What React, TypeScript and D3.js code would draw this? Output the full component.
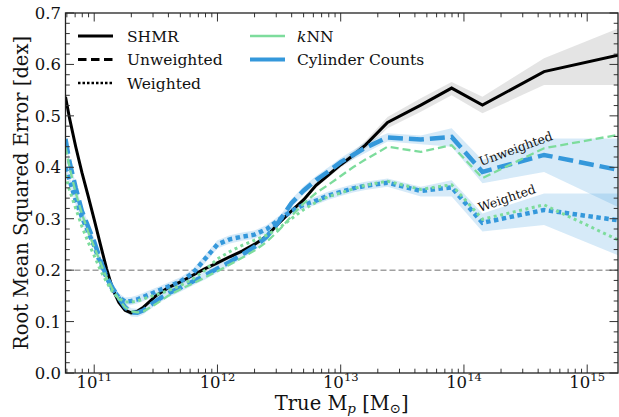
import React from "react";
import * as d3 from "d3";

// log10 of true halo mass at which each curve is sampled
const logMass = [
  10.767, 10.8, 10.85, 10.9, 10.95, 11.0, 11.05, 11.1, 11.15, 11.2, 11.25, 11.3, 11.35, 11.4,
  11.5, 11.6, 11.7, 11.8, 11.9, 12.0, 12.1, 12.2, 12.3, 12.4, 12.5, 12.6, 12.7, 12.8, 12.9,
  13.0, 13.1, 13.2, 13.38, 13.65, 13.9, 14.15, 14.65, 15.25,
];

// RMSE [dex] per model
const shmr = [
  0.537, 0.495, 0.44, 0.39, 0.345, 0.298, 0.25, 0.203, 0.163, 0.137, 0.122, 0.117, 0.12, 0.128,
  0.15, 0.166, 0.177, 0.19, 0.203, 0.214, 0.226, 0.237, 0.25, 0.266, 0.292, 0.315, 0.337, 0.365,
  0.385, 0.405, 0.423, 0.443, 0.487, 0.521, 0.554, 0.521, 0.586, 0.618,
];
const shmrLow = [
  0.533, 0.491, 0.436, 0.386, 0.341, 0.294, 0.246, 0.199, 0.159, 0.133, 0.118, 0.113, 0.116, 0.124,
  0.146, 0.162, 0.173, 0.186, 0.199, 0.21, 0.222, 0.233, 0.246, 0.262, 0.288, 0.311, 0.333, 0.36,
  0.38, 0.399, 0.416, 0.435, 0.476, 0.508, 0.54, 0.505, 0.56, 0.56,
];
const shmrHigh = [
  0.541, 0.499, 0.444, 0.394, 0.349, 0.302, 0.254, 0.207, 0.167, 0.141, 0.126, 0.121, 0.124, 0.132,
  0.154, 0.17, 0.181, 0.194, 0.207, 0.218, 0.23, 0.241, 0.254, 0.27, 0.296, 0.319, 0.341, 0.37,
  0.39, 0.411, 0.43, 0.451, 0.498, 0.534, 0.566, 0.537, 0.612, 0.67,
];

const knnUnweighted = [
  0.44, 0.4, 0.35, 0.31, 0.275, 0.245, 0.215, 0.185, 0.162, 0.143, 0.128, 0.12, 0.118, 0.12,
  0.134, 0.15, 0.163, 0.174, 0.186, 0.198, 0.211, 0.224, 0.238, 0.255, 0.278, 0.305, 0.33, 0.35,
  0.366, 0.383, 0.4, 0.415, 0.44, 0.43, 0.443, 0.379, 0.437, 0.463,
];
const knnWeighted = [
  0.385, 0.355, 0.32, 0.285, 0.255, 0.228, 0.2, 0.177, 0.157, 0.145, 0.138, 0.138, 0.14, 0.144,
  0.152, 0.16, 0.17, 0.183, 0.2, 0.222, 0.236, 0.248, 0.258, 0.268, 0.282, 0.3, 0.318, 0.332,
  0.343, 0.35, 0.358, 0.365, 0.373, 0.357, 0.366, 0.299, 0.327, 0.259,
];

const cylUnweighted = [
  0.455, 0.41, 0.36, 0.315, 0.285, 0.255, 0.22, 0.187, 0.165, 0.146, 0.128, 0.118, 0.117, 0.122,
  0.14, 0.155, 0.166, 0.178, 0.19, 0.203, 0.216, 0.23, 0.245, 0.265, 0.295, 0.33, 0.355, 0.375,
  0.392, 0.41, 0.424, 0.438, 0.458, 0.454, 0.459, 0.391, 0.424, 0.395,
];
const cylUnweightedLow = [
  0.447, 0.402, 0.352, 0.307, 0.277, 0.247, 0.212, 0.179, 0.157, 0.138, 0.12, 0.11, 0.109, 0.114,
  0.132, 0.147, 0.158, 0.17, 0.182, 0.195, 0.208, 0.222, 0.237, 0.257, 0.287, 0.322, 0.347, 0.367,
  0.384, 0.402, 0.415, 0.428, 0.45, 0.445, 0.44, 0.369, 0.391, 0.323,
];
const cylUnweightedHigh = [
  0.463, 0.418, 0.368, 0.323, 0.293, 0.263, 0.228, 0.195, 0.173, 0.154, 0.136, 0.126, 0.125, 0.13,
  0.148, 0.163, 0.174, 0.186, 0.198, 0.211, 0.224, 0.238, 0.253, 0.273, 0.303, 0.338, 0.363, 0.383,
  0.4, 0.418, 0.433, 0.448, 0.466, 0.462, 0.476, 0.414, 0.456, 0.456,
];

const cylWeighted = [
  0.4, 0.375, 0.335, 0.303, 0.275, 0.247, 0.213, 0.186, 0.162, 0.147, 0.139, 0.14, 0.143, 0.148,
  0.158, 0.168, 0.178, 0.194, 0.222, 0.25, 0.26, 0.265, 0.269, 0.28, 0.298, 0.315, 0.327, 0.335,
  0.345, 0.352, 0.359, 0.364, 0.37, 0.354, 0.361, 0.292, 0.317, 0.297,
];
const cylWeightedLow = [
  0.392, 0.367, 0.327, 0.295, 0.267, 0.239, 0.205, 0.178, 0.154, 0.139, 0.131, 0.132, 0.135, 0.14,
  0.15, 0.16, 0.17, 0.186, 0.214, 0.242, 0.252, 0.257, 0.261, 0.272, 0.29, 0.307, 0.319, 0.327,
  0.337, 0.344, 0.351, 0.356, 0.362, 0.343, 0.343, 0.275, 0.288, 0.229,
];
const cylWeightedHigh = [
  0.408, 0.383, 0.343, 0.311, 0.283, 0.255, 0.221, 0.194, 0.17, 0.155, 0.147, 0.148, 0.151, 0.156,
  0.166, 0.176, 0.186, 0.202, 0.23, 0.258, 0.268, 0.273, 0.277, 0.288, 0.306, 0.323, 0.335, 0.343,
  0.353, 0.36, 0.367, 0.372, 0.378, 0.362, 0.375, 0.31, 0.349, 0.349,
];

const yTicks = [0, 0.1, 0.2, 0.3, 0.4, 0.5, 0.6, 0.7];
const xTickExponents = [11, 12, 13, 14, 15];
const referenceLevel = 0.2;

const W = 619;
const H = 417;
const margin = { left: 65.5, right: 1, top: 13, bottom: 44 };
const FONT = "'DejaVu Serif', serif";

const BLACK = "#000000";
const GREEN = "#7ddc9c";
const BLUE = "#3498db";

export default function App() {
  const x = d3
    .scaleLog()
    .domain([Math.pow(10, 10.767), Math.pow(10, 15.25)])
    .range([margin.left, W - margin.right]);
  const y = d3.scaleLinear().domain([0, 0.7]).range([H - margin.bottom, margin.top]);

  const x0 = margin.left;
  const x1 = W - margin.right;
  const y0 = H - margin.bottom;
  const y1 = margin.top;

  const pts = (vals: number[]) => vals.map((v, i) => [Math.pow(10, logMass[i]), v] as [number, number]);
  const line = d3
    .line<[number, number]>()
    .x((d) => x(d[0]))
    .y((d) => y(d[1]));
  const band = (lo: number[], hi: number[]) =>
    d3
      .area<number>()
      .x((_, i) => x(Math.pow(10, logMass[i])))
      .y0((_, i) => y(lo[i]))
      .y1((_, i) => y(hi[i]))(logMass) || "";

  const minorY = d3.range(0, 0.7001, 0.02).filter((v) => Math.abs(v * 10 - Math.round(v * 10)) > 1e-6);
  const [dLo, dHi] = x.domain();
  const minorX: number[] = [];
  for (let e = 10; e <= 15; e++) {
    for (let k = 2; k <= 9; k++) {
      const v = k * Math.pow(10, e);
      if (v >= dLo && v <= dHi) minorX.push(v);
    }
  }

  const tickColor = "#333";
  const majorLen = 8.5;
  const minorLen = 4.3;

  return (
    <svg
      width={W}
      height={H}
      style={{ position: "absolute", left: 0, top: 0, background: "#fff" }}
      fontFamily={FONT}
    >
      <defs>
        <clipPath id="plotArea">
          <rect x={x0} y={y1} width={x1 - x0} height={y0 - y1} />
        </clipPath>
      </defs>

      <g clipPath="url(#plotArea)">
        {/* uncertainty bands */}
        <path d={band(shmrLow, shmrHigh)} fill="#d9d9d9" fillOpacity={0.7} />
        <path d={band(cylUnweightedLow, cylUnweightedHigh)} fill={BLUE} fillOpacity={0.2} />
        <path d={band(cylWeightedLow, cylWeightedHigh)} fill={BLUE} fillOpacity={0.2} />

        {/* reference level */}
        <line
          x1={x0}
          x2={x1}
          y1={y(referenceLevel)}
          y2={y(referenceLevel)}
          stroke="#a0a0a0"
          strokeWidth={1.5}
          strokeDasharray="6,3"
        />

        <path d={line(pts(shmr)) || ""} fill="none" stroke={BLACK} strokeWidth={3} />
        <path d={line(pts(cylUnweighted)) || ""} fill="none" stroke={BLUE} strokeWidth={4.5} strokeDasharray="15,6" />
        <path d={line(pts(cylWeighted)) || ""} fill="none" stroke={BLUE} strokeWidth={4.5} strokeDasharray="4.5,3.5" />
        <path d={line(pts(knnUnweighted)) || ""} fill="none" stroke={GREEN} strokeWidth={2.3} strokeDasharray="8,4" />
        <path d={line(pts(knnWeighted)) || ""} fill="none" stroke={GREEN} strokeWidth={3} strokeDasharray="3,3.5" />

        <text x={481} y={166} fontSize={12.5} transform="rotate(-20 481 166)" fill="#111">
          Unweighted
        </text>
        <text x={480} y={212} fontSize={12.5} transform="rotate(-19 480 212)" fill="#111">
          Weighted
        </text>
      </g>

      {/* ticks */}
      {yTicks.map((t) => (
        <g key={"yt" + t}>
          <line x1={x0} x2={x0 + majorLen} y1={y(t)} y2={y(t)} stroke={tickColor} strokeWidth={1} />
          <line x1={x1} x2={x1 - majorLen} y1={y(t)} y2={y(t)} stroke={tickColor} strokeWidth={1} />
          <text x={61} y={y(t) + 6} fontSize={16.5} textAnchor="end" fill="#111">
            {t.toFixed(1)}
          </text>
        </g>
      ))}
      {minorY.map((t) => (
        <g key={"ym" + t}>
          <line x1={x0} x2={x0 + minorLen} y1={y(t)} y2={y(t)} stroke={tickColor} strokeWidth={1} />
          <line x1={x1} x2={x1 - minorLen} y1={y(t)} y2={y(t)} stroke={tickColor} strokeWidth={1} />
        </g>
      ))}
      {xTickExponents.map((e) => {
        const px = x(Math.pow(10, e));
        return (
          <g key={"xt" + e}>
            <line x1={px} x2={px} y1={y0} y2={y0 - majorLen} stroke={tickColor} strokeWidth={1} />
            <line x1={px} x2={px} y1={y1} y2={y1 + majorLen} stroke={tickColor} strokeWidth={1} />
            <text x={px} y={388} fontSize={16.5} textAnchor="middle" fill="#111">
              10
              <tspan fontSize={11.5} dy={-7}>
                {e}
              </tspan>
            </text>
          </g>
        );
      })}
      {minorX.map((v) => (
        <g key={"xm" + v}>
          <line x1={x(v)} x2={x(v)} y1={y0} y2={y0 - minorLen} stroke={tickColor} strokeWidth={1} />
          <line x1={x(v)} x2={x(v)} y1={y1} y2={y1 + minorLen} stroke={tickColor} strokeWidth={1} />
        </g>
      ))}

      {/* frame */}
      <rect x={x0} y={y1} width={x1 - x0} height={y0 - y1} fill="none" stroke="#222" strokeWidth={1.3} />

      {/* axis titles */}
      <text
        transform={`translate(28,${(y0 + y1) / 2}) rotate(-90)`}
        textAnchor="middle"
        fontSize={19.5}
        fill="#111"
      >
        Root Mean Squared Error [dex]
      </text>
      <text x={(x0 + x1) / 2} y={410} textAnchor="middle" fontSize={19.5} fill="#111">
        True M
        <tspan fontSize={13.5} dy={3} fontStyle="italic">
          p
        </tspan>
        <tspan dy={-3}> [M</tspan>
        <tspan fontSize={13.5} dy={3}>
          ⊙
        </tspan>
        <tspan dy={-3}>]</tspan>
      </text>

      {/* legend */}
      <g fontSize={15.5} fill="#111">
        <line x1={78} x2={113} y1={36} y2={36} stroke={BLACK} strokeWidth={3} />
        <text x={127} y={41.5}>SHMR</text>
        <line x1={78} x2={113} y1={59.5} y2={59.5} stroke={BLACK} strokeWidth={3} strokeDasharray="8.5,4.5" />
        <text x={127} y={65}>Unweighted</text>
        <line x1={78} x2={113} y1={83} y2={83} stroke={BLACK} strokeWidth={2.5} strokeDasharray="2.5,2" />
        <text x={127} y={88.5}>Weighted</text>

        <line x1={250} x2={285} y1={36} y2={36} stroke={GREEN} strokeWidth={2.5} />
        <text x={297} y={41.5}>
          <tspan fontStyle="italic">k</tspan>NN
        </text>
        <line x1={250} x2={285} y1={59.5} y2={59.5} stroke={BLUE} strokeWidth={4} />
        <text x={297} y={65}>Cylinder Counts</text>
      </g>
    </svg>
  );
}
